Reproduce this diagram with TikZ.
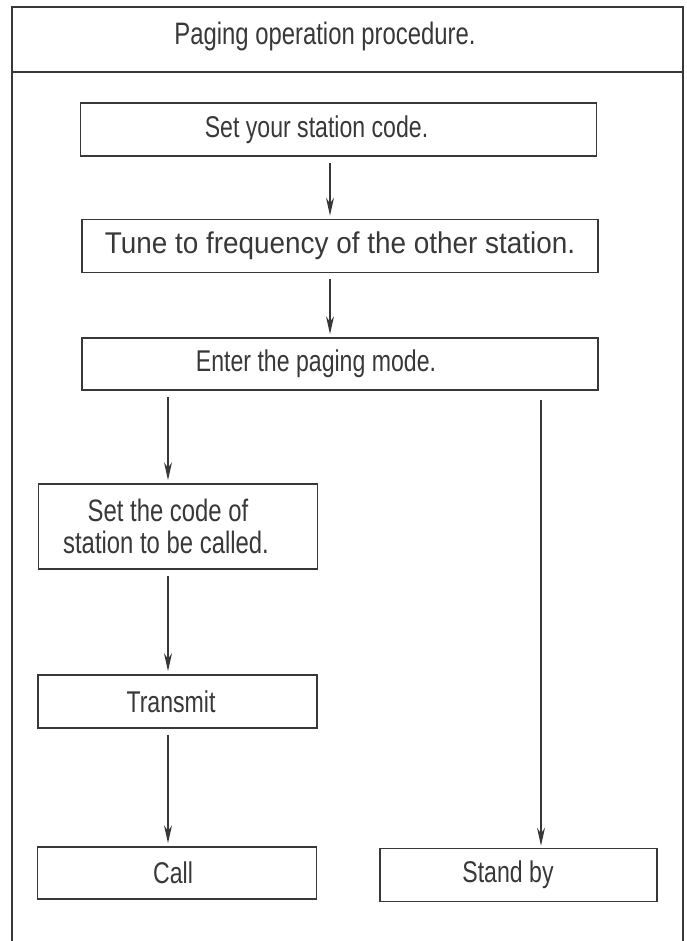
\documentclass[tikz,border=0pt]{standalone}
\usepackage{fontspec}
\setmainfont[FakeStretch=0.77]{Liberation Sans}
\newfontfamily\widefont[FakeStretch=0.93]{Liberation Sans}
\usetikzlibrary{arrows.meta}
\definecolor{ink}{gray}{0.22}
% pushes the text of a box to the left by half of #1
\newcommand{\lpad}[1]{\hspace*{#1}}
\begin{document}
\begin{tikzpicture}[
  x=1pt, y=-1pt,
  font=\fontsize{30}{32}\selectfont, text=ink,
  box/.style={rectangle, draw=ink, line width=1.6pt, minimum height=53pt, inner sep=0pt, align=center},
  widebox/.style={box, minimum width=516pt},
  smallbox/.style={box, minimum width=279pt},
  arrow/.style={-{Stealth[length=18pt,width=8pt]}, draw=ink, line width=1.3pt, shorten <=6pt, shorten >=3pt}
]
\useasboundingbox (0,0) rectangle (686,941);

% frame and heading
\draw[ink, line width=1.3pt] (12,941) -- (12,7) -- (683,7) -- (683,941);
\node[font=\fontsize{31}{32}\selectfont] (title) at (325,36) {Paging operation procedure.};
\draw[ink, line width=1.6pt] (12,72) -- (683,72);

% columns of the connectors
\coordinate (mcol) at (330,0);
\coordinate (lcol) at (168,0);
\coordinate (rcol) at (541,0);

\node[widebox] (setcode) at (338.5,129.5) {Set your station code.\lpad{44pt}};
\node[widebox, font=\widefont\fontsize{30}{32}\selectfont] (tune) at (340,246) {Tune to frequency of the other station.};
\node[widebox, minimum height=52pt] (paging) at (340,364) {Enter the paging mode.\lpad{48pt}};
\node[smallbox, minimum height=85pt, font=\fontsize{31}{32}\selectfont] (callcode) at (178,526.5) {Set the code of\lpad{20pt}\\station to be called.\lpad{24pt}};
\node[smallbox] (transmit) at (177.5,701.5) {Transmit\lpad{13pt}};
\node[smallbox, minimum height=52pt] (call) at (177,873) {Call\lpad{8pt}};
\node[smallbox, minimum width=277pt] (standby) at (518.5,875) {Stand by\lpad{21pt}};

\draw[arrow] (setcode.south -| mcol) -- (tune.north -| mcol);
\draw[arrow] (tune.south -| mcol) -- (paging.north -| mcol);
\draw[arrow] (paging.south -| lcol) -- (callcode.north -| lcol);
\draw[arrow] (callcode.south -| lcol) -- (transmit.north -| lcol);
\draw[arrow] (transmit.south -| lcol) -- (call.north -| lcol);
\draw[arrow, shorten <=9pt, shorten >=2pt] (paging.south -| rcol) -- (standby.north -| rcol);
\end{tikzpicture}
\end{document}
